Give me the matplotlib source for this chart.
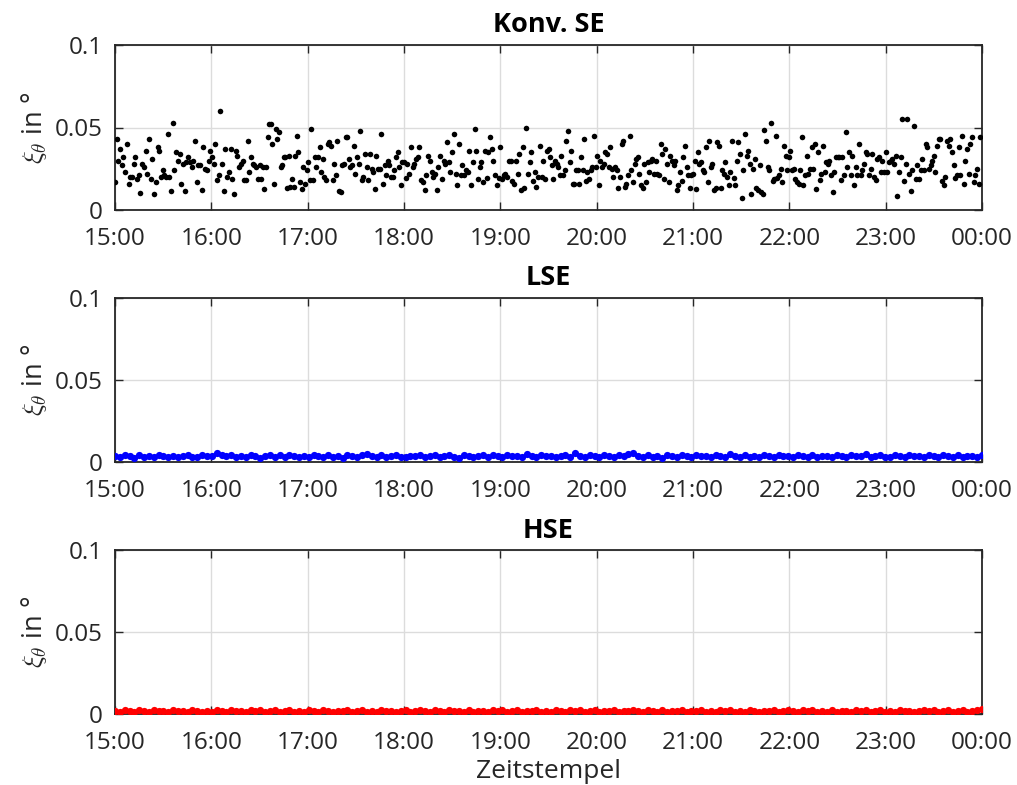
import numpy as np
import pandas as pd
import matplotlib
matplotlib.use("Agg")
import matplotlib.pyplot as plt
import matplotlib.dates as mdates

plt.rcParams['font.family'] = ['Open Sans', 'DejaVu Sans']
plt.rcParams['mathtext.fontset'] = 'cm'

# Konv. SE error, six 90-minute blocks, values in 1e-3 degrees
konv_block1 = [17, 43, 30, 37, 27, 32, 23, 40, 16, 20, 20, 28, 32, 19, 21, 10.5, 28, 26, 36, 22,
               43, 19, 31, 10, 17, 38, 36, 20, 24, 21, 20, 46, 20, 11.5, 53, 24, 35, 30, 34, 16,
               28, 11.5, 29, 32, 29, 26, 30, 42, 17, 27, 27, 12, 38, 25, 24, 30, 36, 32, 28, 40,
               18, 21, 60, 28, 11.5, 37, 20, 23, 37, 19, 10, 36, 33, 26, 28, 30, 18, 18, 42, 23,
               32, 28, 27, 26, 19]
konv_block2 = [27, 19, 26, 12.5, 26, 44, 52, 52, 40, 15.5, 49, 43, 47, 26, 27, 32, 32, 13.5, 33, 14,
               19, 14, 33, 45, 35, 17, 13, 26, 15.5, 24, 29, 18, 49, 18, 32, 26, 32, 38, 23, 31,
               20, 18, 40, 41, 39, 18, 28, 21, 42, 11.5, 11, 27, 28, 44, 44, 31, 26, 27, 39, 22,
               32, 28, 48, 18, 20, 34, 26, 18, 34, 25, 23, 12.5, 33, 25, 25, 46, 16, 27, 21, 30,
               27, 20, 20, 24, 32, 35, 26, 15, 29]
konv_block3 = [29, 19.5, 28, 22, 38, 26, 28, 31, 32, 38, 18, 17, 12, 21.5, 33, 30, 23, 20, 22, 12,
               26, 33, 19, 30, 28, 41, 29, 23, 35, 46, 22, 15, 40, 21.5, 27, 21.5, 24, 23, 36, 15,
               29, 49, 36, 19, 26, 29, 17, 36, 19.5, 35, 44, 37, 30, 21, 15, 19.5, 38, 19, 21, 22,
               20, 30, 30, 17.5, 15.5, 30, 22, 34, 12, 38, 13.5, 49.5, 22, 29, 35, 17.5, 23, 14, 20,
               39, 20, 30, 19, 36]
konv_block4 = [37, 32, 27, 19, 30, 28, 26, 21.5, 33, 21, 24, 42, 48, 29, 36, 16, 15.5, 24, 24, 15.5,
               32, 24, 43, 17.5, 23, 19, 24, 26, 45, 26, 33, 15, 30, 26, 28, 35, 34, 26, 38, 25,
               20, 26, 24, 13.5, 20, 40, 42, 14, 15.5, 21.5, 45, 24, 17, 28, 31, 32, 22, 15, 13.5, 28,
               17, 29, 23, 30, 31, 22, 30, 22, 21.5, 40, 34, 19, 37, 28, 17, 33, 30, 27, 30, 12,
               15, 23, 17.5, 32, 39, 26, 21, 13.5, 21.5]
konv_block5 = [22, 30, 13, 35, 28, 29, 24, 23, 38, 17, 42, 26, 28, 12, 13.5, 41, 39, 13.5, 24, 22,
               29, 20, 15, 23, 42, 19.5, 15, 30, 41, 34, 7.5, 24, 46, 33, 36, 28, 10, 25, 31, 13.5,
               12, 27, 11, 9.5, 48.5, 42, 26, 24, 53, 17.5, 19, 45, 19.5, 21, 25, 17, 39, 33, 24, 32,
               36, 24, 25, 19, 17, 15.5, 24, 44, 15, 21.5, 33, 22, 25, 38, 25, 40, 12.5, 35, 18, 22,
               39, 23, 29, 28, 30, 21, 11, 23, 32]
konv_block6 = [32, 32, 18, 32, 21.5, 47, 26, 35, 21, 33, 15, 26, 21, 40, 21.5, 24, 28, 35, 34, 21,
               25, 34, 20, 18, 31, 32, 23, 30, 23, 35, 23, 29, 30, 31, 28, 33, 8.5, 23, 32, 55,
               17.5, 28, 55, 22, 11.5, 24, 51, 19, 27, 19, 24, 31, 24, 40, 38, 25, 27, 30, 33, 23,
               39, 43, 43, 17.5, 15, 20, 42, 39, 43, 35, 27, 19.5, 21, 38, 21.5, 45, 15.5, 30, 37, 22,
               40, 44, 17, 21, 25, 16, 44]

# LSE error, one value every 3 minutes, in 1e-4 degrees
lse_vals = [38, 30, 42, 34, 27, 40, 33, 36, 29, 41, 35, 31, 39, 28, 37, 44, 33, 30, 41, 36,
            39, 52, 44, 35, 42, 31, 37, 29, 40, 34, 27, 38, 43, 33, 41, 30, 44, 36, 31, 39,
            28, 42, 35, 30, 45, 33, 38, 27, 40, 36, 31, 43, 46, 37, 32, 40, 29, 35, 41, 33,
            30, 39, 34, 42, 28, 37, 44, 31, 36, 40, 33, 27, 45, 38, 32, 35, 41, 30, 43, 36,
            29, 40, 34, 38, 31, 46, 37, 28, 42, 35, 39, 30, 36, 44, 33, 56, 38, 31, 40, 34,
            29, 43, 37, 32, 41, 36, 47, 52, 35, 30, 42, 33, 38, 27, 40, 35, 31, 44, 36, 29,
            41, 34, 37, 30, 43, 38, 32, 46, 35, 29, 40, 33, 39, 31, 44, 36, 28, 42, 34, 38,
            30, 45, 37, 33, 41, 29, 39, 35, 32, 43, 36, 30, 40, 34, 38, 47, 31, 37, 42, 33,
            29, 44, 36, 32, 40, 35, 38, 30, 43, 34, 28, 41, 37, 33, 45, 31, 39, 36, 30, 42]

# HSE error, one value every 3 minutes, in 1e-4 degrees
hse_vals = [20, 14, 24, 17, 11, 22, 18, 13, 25, 16, 19, 12, 23, 17, 21, 14, 26, 18, 12, 20,
            15, 23, 19, 13, 24, 17, 21, 11, 22, 16, 25, 14, 19, 23, 12, 18, 26, 15, 20, 13,
            22, 17, 11, 24, 19, 14, 21, 16, 27, 13, 18, 23, 15, 20, 12, 25, 17, 21, 14, 19,
            24, 13, 18, 22, 16, 11, 26, 19, 14, 23, 17, 20, 12, 25, 15, 21, 18, 13, 24, 16,
            22, 12, 19, 27, 14, 20, 17, 23, 11, 21, 15, 26, 18, 13, 22, 16, 24, 14, 19, 25,
            13, 20, 17, 23, 12, 21, 16, 26, 18, 14, 22, 19, 11, 24, 15, 20, 17, 25, 13, 21,
            18, 23, 14, 19, 12, 26, 16, 22, 15, 20, 13, 24, 18, 11, 21, 17, 25, 14, 19, 23,
            16, 12, 22, 18, 27, 14, 20, 15, 24, 13, 21, 17, 11, 23, 19, 26, 15, 18, 22, 14,
            20, 13, 24, 17, 21, 12, 19, 25, 16, 22, 14, 18, 23, 11, 20, 26, 15, 19, 24, 28]

titles = ['Konv. SE', 'LSE', 'HSE']
colors = ['black', 'blue', 'red']
marker_sizes = [4.0, 5.2, 5.2]

t0 = pd.Timestamp('2019-05-06 15:00')
t_end = pd.Timestamp('2019-05-07 00:00')

# time axis for the Konv. SE blocks
konv_t = []
konv_v = []
for k, block in enumerate([konv_block1, konv_block2, konv_block3,
                           konv_block4, konv_block5, konv_block6]):
    mins = np.linspace(90 * k, 90 * (k + 1), len(block), endpoint=False)
    konv_t.extend(t0 + pd.to_timedelta(mins, unit='min'))
    konv_v.extend(np.array(block) * 1e-3)

lse_t = t0 + pd.to_timedelta(np.linspace(0, 540, len(lse_vals)), unit='min')
hse_t = t0 + pd.to_timedelta(np.linspace(0, 540, len(hse_vals)), unit='min')

series = [(konv_t, konv_v),
          (lse_t, np.array(lse_vals) * 1e-4),
          (hse_t, np.array(hse_vals) * 1e-4)]

fig = plt.figure(figsize=(10.17, 7.85), dpi=100)
W, H = 1017, 785
# axes boxes in pixels: (left, top, right, bottom)
boxes = [(115, 45, 982, 210), (115, 298, 982, 462), (115, 550, 982, 714)]

dark = '#262626'
for i, (box, (t, v)) in enumerate(zip(boxes, series)):
    l, tp, r, b = box
    ax = fig.add_axes([l / W, 1 - b / H, (r - l) / W, (b - tp) / H])
    ax.plot(t, v, linestyle='none', marker='o', markersize=marker_sizes[i],
            markeredgewidth=0, color=colors[i], zorder=3)
    ax.set_xlim(t0, t_end)
    ax.set_ylim(0, 0.1)
    ax.set_yticks([0, 0.05, 0.1])
    ax.set_yticklabels(['0', '0.05', '0.1'])
    ax.xaxis.set_major_locator(mdates.HourLocator())
    ax.xaxis.set_major_formatter(mdates.DateFormatter('%H:%M'))
    ax.grid(True, color='#dcdcdc', linewidth=1.0, zorder=0)
    ax.set_axisbelow(True)
    ax.tick_params(direction='in', length=6, width=1.0, colors=dark,
                   labelsize=17.5, top=True, right=True)
    ax.tick_params(axis='x', pad=12)
    ax.tick_params(axis='y', pad=9)
    for s in ax.spines.values():
        s.set_color(dark)
        s.set_linewidth(1.3)
    ax.set_title(titles[i], fontsize=19.5, fontweight='bold', pad=9)
    ax.set_ylabel(r'$\xi_\theta$ in °', fontsize=19.5, color=dark, labelpad=4)
    if i == 2:
        ax.set_xlabel('Zeitstempel', fontsize=19, color=dark, labelpad=3)

fig.savefig('out.png', dpi=100)
